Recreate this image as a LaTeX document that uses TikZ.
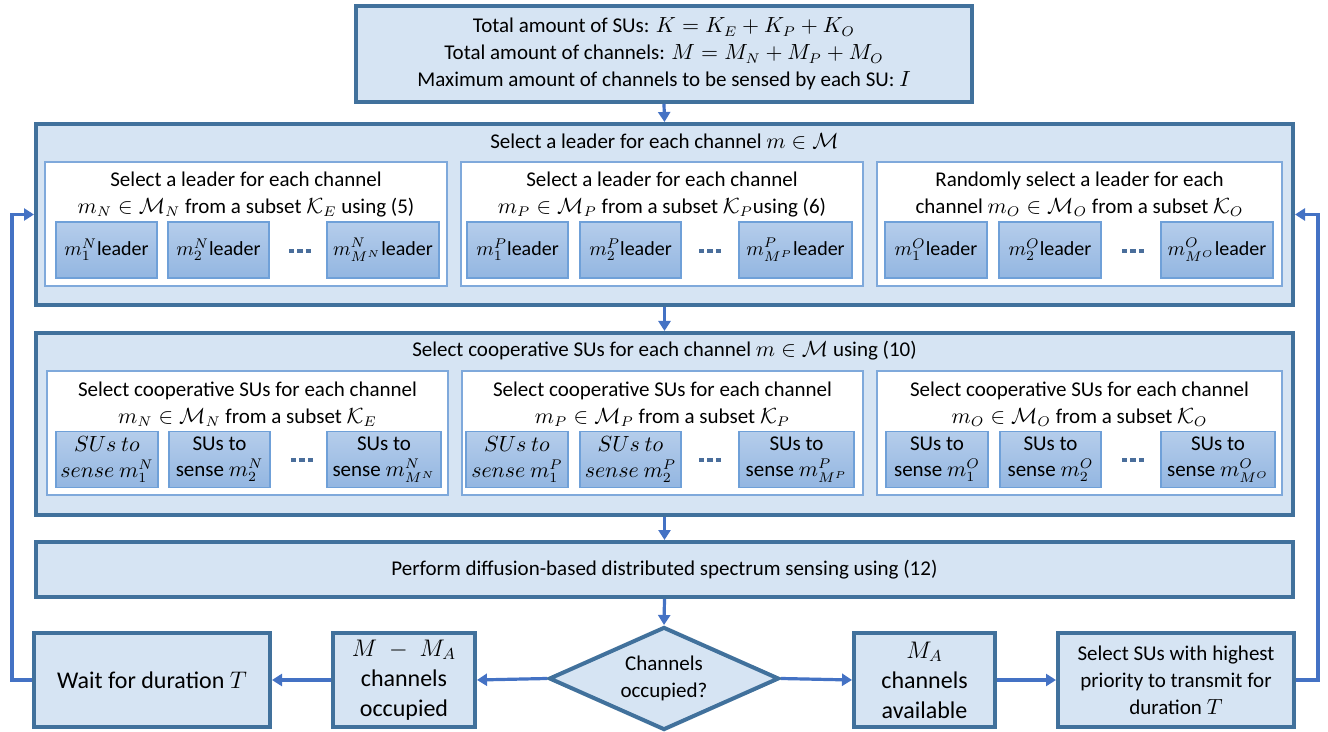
\documentclass[tikz,border=0pt]{standalone}
\usepackage{fontspec}
\setmainfont{Carlito}
\usetikzlibrary{shapes.geometric,arrows.meta}
\definecolor{bfill}{HTML}{D6E4F3}
\definecolor{bdraw}{HTML}{41719C}
\definecolor{conncol}{HTML}{4472C4}
\definecolor{iborder}{HTML}{7FA9DB}
\definecolor{stopc}{HTML}{B5CDEB}
\definecolor{sbotc}{HTML}{93B6E1}
\definecolor{sdraw}{HTML}{6FA0D8}
\definecolor{dotcol}{HTML}{4A6E9B}
\newcommand{\tdots}{{\color{dotcol}\rule{2.6pt}{1.8pt}\hspace{1.6pt}\rule{2.6pt}{1.8pt}\hspace{1.6pt}\rule{2.6pt}{1.8pt}}}
\begin{document}
\begin{tikzpicture}[x=0.5pt,y=-0.5pt,
  outer/.style={draw=bdraw, fill=bfill, line width=2pt, inner sep=0pt, align=center},
  innerbox/.style={draw=iborder, fill=white, line width=0.8pt, inner sep=0pt},
  smallbox/.style={draw=sdraw, line width=0.6pt, top color=stopc, bottom color=sbotc, inner sep=0pt, align=center, font=\fontsize{10}{12}\selectfont, minimum height=28pt},
  subox/.style={smallbox, font=\fontsize{10.5}{12.8}\selectfont},
  txt/.style={align=center, inner sep=0pt, font=\fontsize{10.5}{13.5}\selectfont},
  big/.style={font=\fontsize{12}{15}\selectfont},
  arr/.style={draw=conncol, line width=1.6pt, -{Triangle[length=5pt,width=6pt]}},
  dotsnode/.style={inner sep=0pt}]
\useasboundingbox (0,0) rectangle (1328,732);

% top box
\node[outer, txt, minimum width=308pt, minimum height=48pt] (top) at (664,54)
  {Total amount of SUs: $K=K_E+K_P+K_O$\\ Total amount of channels: $M=M_N+M_P+M_O$\\ Maximum amount of channels to be sensed by each SU: $I$};

% leader section
\node[outer, minimum width=628.5pt, minimum height=90.5pt] (lead) at (664.5,214.5) {};
\node[txt] (leadt) at (664.5,141) {Select a leader for each channel $m\in\mathcal{M}$};
\node[innerbox, minimum width=201pt, minimum height=62pt] (l1) at (246,224) {};
\node[innerbox, minimum width=201pt, minimum height=62pt] (l2) at (662,224) {};
\node[innerbox, minimum width=202.5pt, minimum height=62pt] (l3) at (1079.5,224) {};
\node[txt] (l1t) at (246,194.5) {Select a leader for each channel\\ $m_N\in\mathcal{M}_N$ from a subset $\mathcal{K}_E$ using (5)};
\node[txt] (l2t) at (662,194.5) {Select a leader for each channel\\ $m_P\in\mathcal{M}_P$ from a subset $\mathcal{K}_P$using (6)};
\node[txt] (l3t) at (1079.5,194.5) {Randomly select a leader for each\\ channel $m_O\in\mathcal{M}_O$ from a subset $\mathcal{K}_O$};

\node[smallbox, minimum width=50.5pt] (l1a) at (106.5,250) {$m_1^N$leader};
\node[smallbox, minimum width=50.5pt] (l1b) at (218.5,250) {$m_2^N$leader};
\node[smallbox, minimum width=56pt] (l1c) at (383,250) {$m_{M^N}^N$leader};
\node[dotsnode] (l1d) at (300,251) {\tdots};
\node[smallbox, minimum width=50.5pt] (l2a) at (517.5,250) {$m_1^P$leader};
\node[smallbox, minimum width=50.5pt] (l2b) at (630.5,250) {$m_2^P$leader};
\node[smallbox, minimum width=56.5pt] (l2c) at (795.5,250) {$m_{M^P}^P$leader};
\node[dotsnode] (l2d) at (710,251) {\tdots};
\node[smallbox, minimum width=51pt] (l3a) at (936,250) {$m_1^O$leader};
\node[smallbox, minimum width=51pt] (l3b) at (1050,250) {$m_2^O$leader};
\node[smallbox, minimum width=56pt] (l3c) at (1217,250) {$m_{M^O}^O$leader};
\node[dotsnode] (l3d) at (1133,251) {\tdots};

% cooperative section
\node[outer, minimum width=628.5pt, minimum height=91pt] (coop) at (664.5,424) {};
\node[txt] (coopt) at (664.5,351) {Select cooperative SUs for each channel $m\in\mathcal{M}$ using (10)};
\node[innerbox, minimum width=200.5pt, minimum height=62pt] (c1) at (247.5,433) {};
\node[innerbox, minimum width=200.5pt, minimum height=62pt] (c2) at (662.5,433) {};
\node[innerbox, minimum width=202.5pt, minimum height=62pt] (c3) at (1079.5,433) {};
\node[txt] (c1t) at (247.5,404.5) {Select cooperative SUs for each channel\\ $m_N\in\mathcal{M}_N$ from a subset $\mathcal{K}_E$};
\node[txt] (c2t) at (662.5,404.5) {Select cooperative SUs for each channel\\ $m_P\in\mathcal{M}_P$ from a subset $\mathcal{K}_P$};
\node[txt] (c3t) at (1079.5,404.5) {Select cooperative SUs for each channel\\ $m_O\in\mathcal{M}_O$ from a subset $\mathcal{K}_O$};

\node[subox, minimum width=51pt] (c1a) at (107,459.5) {$SUs\ to$\\ $sense\ m_1^N$};
\node[subox, minimum width=50.5pt] (c1b) at (219.5,459.5) {SUs to\\ sense $m_2^N$};
\node[subox, minimum width=57pt] (c1c) at (384,459.5) {SUs to\\ sense $m_{M^N}^N$};
\node[dotsnode] (c1d) at (302,460) {\tdots};
\node[subox, minimum width=51pt] (c2a) at (517,459.5) {$SUs\ to$\\ $sense\ m_1^P$};
\node[subox, minimum width=50.5pt] (c2b) at (630.5,459.5) {$SUs\ to$\\ $sense\ m_2^P$};
\node[subox, minimum width=57.5pt] (c2c) at (796.5,459.5) {SUs to\\ sense $m_{M^P}^P$};
\node[dotsnode] (c2d) at (710,460) {\tdots};
\node[subox, minimum width=51pt] (c3a) at (937,459.5) {SUs to\\ sense $m_1^O$};
\node[subox, minimum width=50.5pt] (c3b) at (1050.5,459.5) {SUs to\\ sense $m_2^O$};
\node[subox, minimum width=57pt] (c3c) at (1218,459.5) {SUs to\\ sense $m_{M^O}^O$};
\node[dotsnode] (c3d) at (1133,460) {\tdots};

% perform
\node[outer, txt, minimum width=628.5pt, minimum height=27.5pt] (perf) at (664.5,569.5)
  {Perform diffusion-based distributed spectrum sensing using (12)};

% bottom row
\node[outer, txt, diamond, aspect=2.2, minimum width=115pt, minimum height=51.5pt] (dec) at (664,678.5) {Channels\\ occupied?};
\node[outer, txt, big, minimum width=71pt, minimum height=47pt] (mma) at (404,680) {$M\;-\;M_A$\\ channels\\ occupied};
\node[outer, txt, big, minimum width=118pt, minimum height=47pt] (wait) at (152,680) {Wait for duration $T$};
\node[outer, txt, big, minimum width=70.5pt, minimum height=47pt] (ma) at (924.5,680) {$M_A$\\ channels\\ available};
\node[outer, txt, minimum width=118pt, minimum height=47pt] (sel) at (1176,680) {Select SUs with highest\\ priority to transmit for\\ duration $T$};

\coordinate (lloop) at (12,680);
\coordinate (rloop) at (1318,680);

% connectors
\draw[arr] (top.south) -- (lead.north);
\draw[arr] (lead.south) -- (coop.north);
\draw[arr] (coop.south) -- (perf.north);
\draw[arr] (perf.south) -- (dec.north);
\draw[arr] (dec.west) -- (mma.east);
\draw[arr] (mma.west) -- (wait.east);
\draw[arr] (dec.east) -- (ma.west);
\draw[arr] (ma.east) -- (sel.west);
\draw[arr] (wait.west) -- (lloop) |- (lead.west);
\draw[arr] (sel.east) -- (rloop) |- (lead.east);
\end{tikzpicture}
\end{document}
